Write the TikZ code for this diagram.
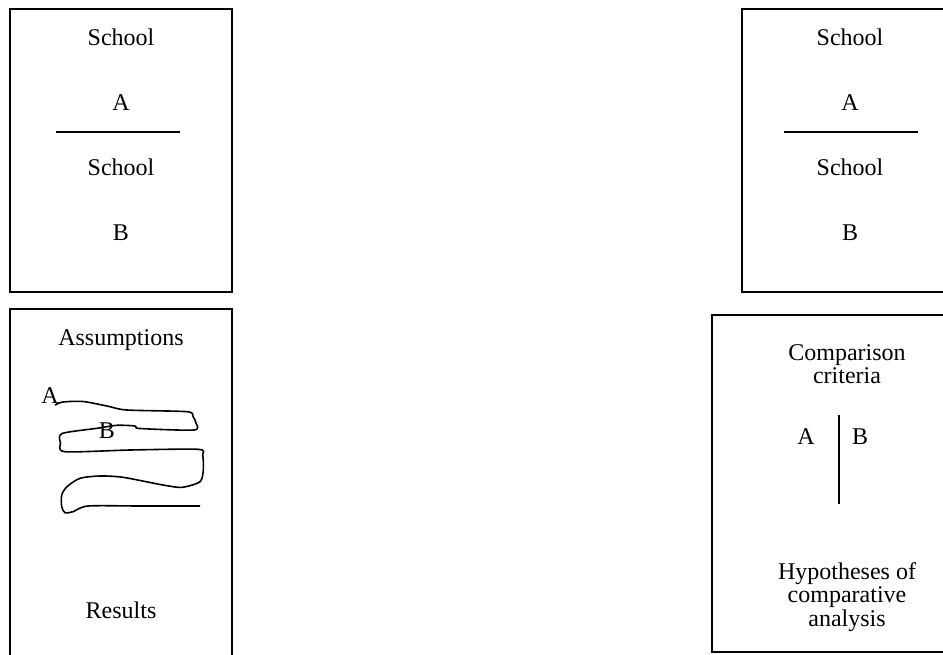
\documentclass[tikz,border=0pt]{standalone}
\usepackage{fontspec}
\setmainfont{Liberation Serif}
\begin{document}
\begin{tikzpicture}[x=0.75pt,y=-0.75pt,
    frame/.style={draw, line width=1pt},
    rule/.style={line width=1.5pt},
    lbl/.style={inner sep=0pt, anchor=base, font=\fontsize{18}{17.8}\selectfont},
    stack/.style={lbl, anchor=north, align=center}
]
\useasboundingbox (0,0) rectangle (943,654);
\clip (0,0) rectangle (943,654);
% the two school panels
\foreach \side/\xl/\xr/\xm/\ra/\rb in {L/10/232/121/56/180, R/742/958/850/784/918} {
  \draw[frame] (\xl,9) rectangle (\xr,292);
  \node[lbl] (schoolA\side) at (\xm,45) {School};
  \node[lbl] (letA\side) at (\xm,110) {A};
  \node[lbl] (schoolB\side) at (\xm,175) {School};
  \node[lbl] (letB\side) at (\xm,240) {B};
  \draw[rule] (\ra,132) -- (\rb,132);
}
% assumptions panel
\draw[frame] (10,309) rectangle (232,680);
\node[lbl] (assum) at (121,345) {Assumptions};
\node[lbl] (res) at (121,618) {Results};
\draw[line width=1.2pt, line join=round] plot[smooth, tension=0.45] coordinates {
  (55,405) (63,402) (83,401.5) (107,406) (127,410) (187,411.7) (193,416.5)
  (196,423) (194,430) (140,428.5) (135,426) (117,425.3) (97,428.3) (62,433.5)
  (60.5,443) (65,451.7) (130,450) (198,449.3) (202.7,455) (203.3,470)
  (200,481.7) (182,487.3) (163,485) (123,477.3) (100,476) (80,478.3)
  (67,486.7) (61.7,495) (61.7,506.7) (65,512.7) (73,511.7) (88,506)
  (140,506) (200,506)};
\node[lbl] (sqA) at (50,403) {A};
\node[lbl] (sqB) at (107,438) {B};
% comparison panel
\draw[frame] (712,315) rectangle (982,652);
\node[stack] (crit) at (847,344) {Comparison\\criteria};
\node[lbl] (cmpA) at (806,444) {A};
\node[lbl] (cmpB) at (860,444) {B};
\coordinate (splitT) at (839,415);
\coordinate (splitB) at (839,504);
\draw[rule] (splitT) -- (splitB);
\node[stack] (hyp) at (847,562) {Hypotheses of\\comparative\\analysis};
\end{tikzpicture}
\end{document}
